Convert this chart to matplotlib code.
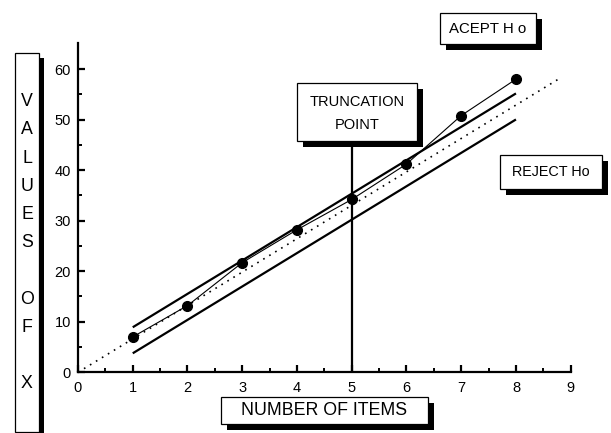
import matplotlib
matplotlib.use("Agg")
import matplotlib.pyplot as plt
from matplotlib.patches import Rectangle
import numpy as np

# Sequential test: cumulative values of X against number of items
items = [1, 2, 3, 4, 5, 6, 7, 8]
values_x = [7.0, 13.2, 21.7, 28.2, 34.2, 41.2, 50.8, 58.0]

# Decision boundaries (parallel lines) and centre line
slope = 6.61
h_upper = 2.3
h_lower = -2.85
centre_end = 8.83
truncation_item = 5
truncation_top = 46.0

x_ticks = [0, 1, 2, 3, 4, 5, 6, 7, 8, 9]
y_ticks = [0, 10, 20, 30, 40, 50, 60]

W, H = 611, 433
plt.rcParams['font.family'] = ['Liberation Sans', 'DejaVu Sans']
fig = plt.figure(figsize=(W / 100, H / 100), dpi=100)

ax_l, ax_r, ax_t, ax_b = 78, 570.7, 43.3, 372.3
ax = fig.add_axes([ax_l / W, 1 - ax_b / H, (ax_r - ax_l) / W, (ax_b - ax_t) / H])
ax.set_xlim(0, 9)
ax.set_ylim(0, 65.1)

for s in ['top', 'right']:
    ax.spines[s].set_visible(False)
for s in ['left', 'bottom']:
    ax.spines[s].set_linewidth(1.6)

ax.set_xticks(x_ticks)
ax.set_yticks(y_ticks)
ax.set_xticks(np.arange(0.5, 9, 1.0), minor=True)
ax.set_yticks(np.arange(5, 65, 10), minor=True)
ax.tick_params(which='major', direction='in', length=5, width=1.6,
               labelsize=10.5, pad=6)
ax.tick_params(which='minor', direction='in', length=3, width=1.4)
ax.tick_params(axis='y', which='major', pad=5)

xs = np.array([items[0], items[-1]], dtype=float)
ax.plot(xs, h_upper + slope * xs, color='black', lw=1.6, solid_capstyle='butt')
ax.plot(xs, h_lower + slope * xs, color='black', lw=1.6, solid_capstyle='butt')
xc = np.array([0.0, centre_end])
ax.plot(xc, slope * xc, color='black', lw=1.2, linestyle=(0, (1, 3.2)))
ax.plot(items, values_x, color='black', lw=0.8, marker='o', markersize=7,
        zorder=5)
ax.plot([truncation_item, truncation_item], [0, truncation_top], color='black',
        lw=1.6, solid_capstyle='butt', clip_on=False)


def fx(px):
    return px / W


def fy(py):
    return 1 - py / H


def shadow_box(x0, y0, x1, y1, off=6, lw=0.9):
    fig.add_artist(Rectangle((fx(x0 + off), fy(y1 + off)), (x1 - x0) / W,
                             (y1 - y0) / H, transform=fig.transFigure,
                             facecolor='black', edgecolor='none', zorder=10))
    fig.add_artist(Rectangle((fx(x0), fy(y1)), (x1 - x0) / W, (y1 - y0) / H,
                             transform=fig.transFigure, facecolor='white',
                             edgecolor='black', lw=lw, zorder=11))


def box_text(x, y, s, size):
    fig.text(fx(x), fy(y), s, ha='center', va='center', fontsize=size,
             color='black', zorder=12)


# Hypothesis labels
shadow_box(440, 13, 536, 44)
box_text(488, 29, 'ACEPT H o', 10.8)

shadow_box(500, 155, 602, 189)
box_text(551, 172, 'REJECT Ho', 10.4)

# Truncation point label
shadow_box(297, 83, 417, 141)
box_text(357, 101.5, 'TRUNCATION', 10.5)
box_text(357, 125, 'POINT', 10.5)

# Axis titles
shadow_box(220.7, 397, 428, 424)
box_text(324.3, 410.5, 'NUMBER OF ITEMS', 12.8)

shadow_box(15, 52.7, 39, 431.7, off=5)
letters = ['V', 'A', 'L', 'U', 'E', 'S', '', 'O', 'F', '', 'X']
for i, ch in enumerate(letters):
    if ch:
        box_text(27, 101.7 + i * 28.2, ch, 12.8)

fig.savefig('out.png', dpi=100)
